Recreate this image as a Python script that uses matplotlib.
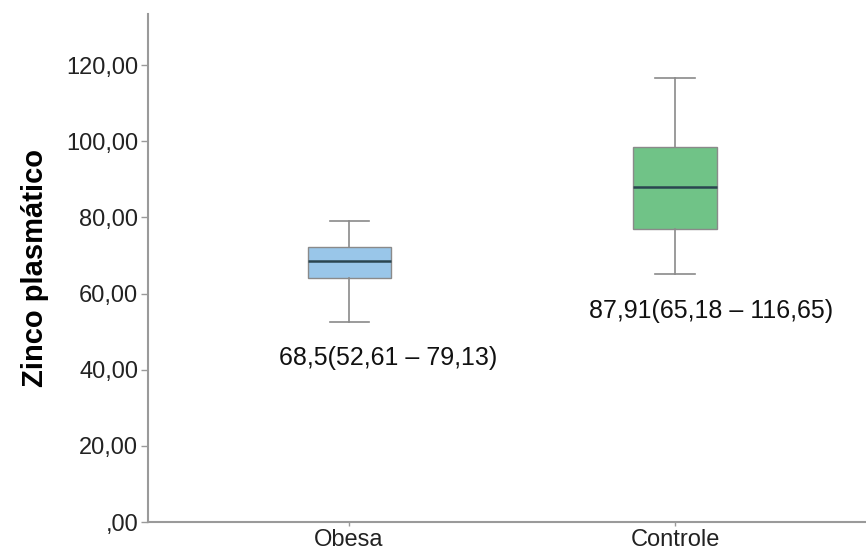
import matplotlib
matplotlib.use("Agg")
import matplotlib.pyplot as plt
from matplotlib.ticker import FuncFormatter

categories = ["Obesa", "Controle"]
medians = [68.5, 87.91]
q1 = [64.1, 76.9]
q3 = [72.3, 98.5]
whislo = [52.61, 65.18]
whishi = [79.13, 116.65]
annotations = ["68,5(52,61 – 79,13)", "87,91(65,18 – 116,65)"]
box_colors = ["#99c6e9", "#70c387"]
yticks = [0, 20, 40, 60, 80, 100, 120]

plt.rcParams['font.family'] = ['Liberation Sans', 'DejaVu Sans']

fig = plt.figure(figsize=(8.66, 5.51), dpi=100)
ax = fig.add_axes([148/866, 1 - 522/551, 1 - 148/866, (522 - 14)/551])

stats = []
for i, c in enumerate(categories):
    stats.append(dict(label=c, med=medians[i], q1=q1[i], q3=q3[i],
                      whislo=whislo[i], whishi=whishi[i], fliers=[]))

bp = ax.bxp(stats, positions=[0, 1], widths=0.255, patch_artist=True,
            showfliers=False,
            boxprops=dict(edgecolor="#8a8a8a", linewidth=1.0),
            whiskerprops=dict(color="#8a8a8a", linewidth=1.2),
            capprops=dict(color="#8a8a8a", linewidth=1.2),
            medianprops=dict(color="#2a4550", linewidth=1.8),
            capwidths=0.12)
for patch, col in zip(bp['boxes'], box_colors):
    patch.set_facecolor(col)

ax.set_xlim(-0.617, 1.586)
ax.set_ylim(0, 133.4)
ax.set_yticks(yticks)
ax.yaxis.set_major_formatter(FuncFormatter(lambda v, p: ("%.2f" % v).replace(".", ",") if v != 0 else ",00"))
ax.set_xticks([0, 1])
ax.set_xticklabels(categories)

for s in ["top", "right"]:
    ax.spines[s].set_visible(False)
for s in ["left", "bottom"]:
    ax.spines[s].set_color("#9a9a9a")
    ax.spines[s].set_linewidth(1.5)
ax.tick_params(axis="y", colors="#9a9a9a", labelcolor="#222222", labelsize=17, length=5, width=1, pad=2)
ax.tick_params(axis="x", colors="#9a9a9a", labelcolor="#222222", labelsize=17, length=3, width=1, pad=2)

ax.set_ylabel("Zinco plasmático", fontsize=21, fontweight="bold", labelpad=12)

text_offsets = [0.12, 0.11]
text_y = [43.0, 55.5]
for i, t in enumerate(annotations):
    ax.text(i + text_offsets[i], text_y[i], t, ha="center", va="center", fontsize=18, color="#111111")

fig.savefig("out.png", dpi=100)
